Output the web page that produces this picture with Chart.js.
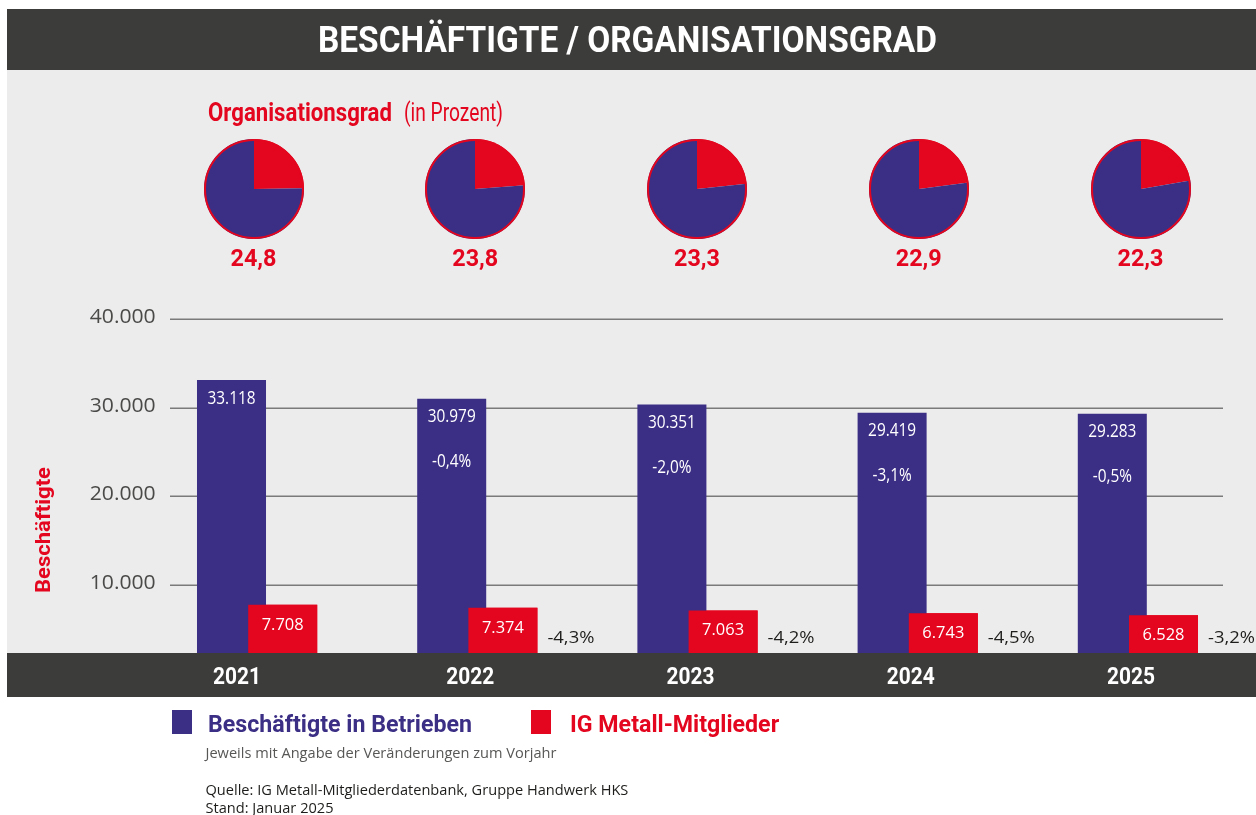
<!DOCTYPE html>
<html lang="de">
<head>
<meta charset="utf-8">
<title>Beschäftigte / Organisationsgrad</title>
<script src="https://cdn.jsdelivr.net/npm/chart.js@4.4.1/dist/chart.umd.min.js"></script>
<style>
  html, body { margin: 0; padding: 0; background: #ffffff; }
  #wrap { position: relative; width: 1256px; height: 815px; overflow: hidden; }
  #main { position: absolute; left: 0; top: 0; }
  .pie { position: absolute; width: 110px; height: 110px; }
</style>
</head>
<body>
<div id="wrap">
  <canvas id="main" width="1256" height="815"></canvas>
</div>
<script>
// ---------- DATA ----------
const years = ['2021', '2022', '2023', '2024', '2025'];
const employees = [33118, 30979, 30351, 29419, 29283];          // Beschäftigte in Betrieben
const members = [7708, 7374, 7063, 6743, 6528];                 // IG Metall-Mitglieder
const employeesChange = [null, -0.4, -2.0, -3.1, -0.5];         // % zum Vorjahr
const membersChange = [null, -4.3, -4.2, -4.5, -3.2];           // % zum Vorjahr
const orgDegree = [24.8, 23.8, 23.3, 22.9, 22.3];               // Organisationsgrad in %
const yTicks = [10000, 20000, 30000, 40000];
const seriesNames = ['Beschäftigte in Betrieben', 'IG Metall-Mitglieder'];

// ---------- STYLE ----------
const BLUE = '#3b2e85';
const RED = '#e3061e';
const DARK = '#3c3c3b';
const PANEL = '#ececec';
const GRID = '#7a7a7a';
const TICK = '#4a4a49';
const INK = '#1d1d1b';

const fmtInt = v => String(v).replace(/\B(?=(\d{3})+(?!\d))/g, '.');
const fmtDec = v => v.toFixed(1).replace('.', ',');

// text styles: horizontal scale fitted to a reference width
const styles = {
  title:   { font: '700 36px Roboto', ref: 'BESCHÄFTIGTE / ORGANISATIONSGRAD', w: 619, color: '#ffffff' },
  orgHead: { font: '700 25px Roboto', ref: 'Organisationsgrad', w: 184, color: RED },
  orgSub:  { font: '400 25px Roboto', ref: '(in Prozent)', w: 99, color: RED },
  pieLbl:  { font: '700 24px Roboto', ref: '24,8', w: 46, color: RED },
  yTick:   { font: '400 20px "Open Sans"', ref: '40.000', w: 66, color: TICK },
  axis:    { font: '700 20px Roboto', ref: 'Beschäftigte', w: 126, color: RED },
  year:    { font: '700 24px Roboto', ref: '2021', w: 48, color: '#ffffff' },
  barVal:  { font: '400 18px "Open Sans"', ref: '29.419', w: 48, color: '#ffffff' },
  redVal:  { font: '400 17px "Open Sans"', ref: '6.528', w: 42, color: '#ffffff' },
  redPct:  { font: '400 17px "Open Sans"', ref: '-4,3%', w: 47, color: INK },
  legend:  { font: '700 23px Roboto', ref: 'Beschäftigte in Betrieben', w: 264, color: BLUE },
  note:    { font: '400 15px "Open Sans"', ref: 'Jeweils mit Angabe der Veränderungen zum Vorjahr', w: 351, color: '#575756' },
};

function prepStyles(ctx) {
  for (const k in styles) {
    const s = styles[k];
    ctx.font = s.font;
    s.sx = s.w / ctx.measureText(s.ref).width;
  }
}

function drawText(ctx, text, x, y, s, align, baseline, color, rot) {
  ctx.save();
  ctx.font = s.font;
  ctx.fillStyle = color || s.color;
  ctx.textAlign = align || 'left';
  ctx.textBaseline = baseline || 'alphabetic';
  ctx.translate(x, y);
  if (rot) ctx.rotate(rot);
  ctx.scale(s.sx, 1);
  ctx.fillText(text, 0, 0);
  ctx.restore();
}

const pieCenters = orgDegree.map((_, i) => 253.5 + i * 221.75);

const decor = {
  id: 'decor',
  beforeDraw(chart) {
    const ctx = chart.ctx;
    if (!styles.title.sx) prepStyles(ctx);
    ctx.save();
    ctx.fillStyle = DARK;
    ctx.fillRect(7, 9, 1249, 61);
    ctx.fillStyle = PANEL;
    ctx.fillRect(7, 70, 1249, 583);
    ctx.restore();
  },
  beforeDatasetsDraw(chart) {
    const ctx = chart.ctx;
    const y = chart.scales.y;
    ctx.save();
    ctx.strokeStyle = GRID;
    ctx.lineWidth = 1.5;
    yTicks.forEach(t => {
      const py = Math.round(y.getPixelForValue(t)) + 0.25;
      ctx.beginPath();
      ctx.moveTo(170, py);
      ctx.lineTo(1223, py);
      ctx.stroke();
      drawText(ctx, fmtInt(t), 155.7, py + 4, styles.yTick, 'right');
    });
    ctx.restore();
  },
  afterDatasetsDraw(chart) {
    const ctx = chart.ctx;
    // members bars overlap the employees bars: draw them on top
    chart.getDatasetMeta(1).controller.draw();
    ctx.save();
    ctx.fillStyle = DARK;
    ctx.fillRect(7, 653, 1249, 44);
    ctx.restore();
  },
  afterDraw(chart) {
    const ctx = chart.ctx;
    const x = chart.scales.x;
    const mBlue = chart.getDatasetMeta(0);
    const mRed = chart.getDatasetMeta(1);

    // title
    drawText(ctx, 'BESCHÄFTIGTE / ORGANISATIONSGRAD', 627.5, 52.3, styles.title, 'center');
    // Organisationsgrad heading
    drawText(ctx, 'Organisationsgrad', 208, 120.5, styles.orgHead, 'left');
    drawText(ctx, '(in Prozent)', 404, 120.5, styles.orgSub, 'left');
    // pie values
    orgDegree.forEach((v, i) => drawText(ctx, fmtDec(v), pieCenters[i], 265.7, styles.pieLbl, 'center'));
    // axis title
    drawText(ctx, 'Beschäftigte', 49.5, 530, styles.axis, 'center', 'alphabetic', null, -Math.PI / 2);

    // bar labels
    mBlue.data.forEach((bar, i) => {
      drawText(ctx, fmtInt(employees[i]), bar.x, bar.y + 18.5, styles.barVal, 'center', 'middle');
      if (employeesChange[i] !== null) {
        drawText(ctx, fmtDec(employeesChange[i]) + '%', bar.x, bar.y + 63.5, styles.barVal, 'center', 'middle');
      }
    });
    mRed.data.forEach((bar, i) => {
      drawText(ctx, fmtInt(members[i]), bar.x, bar.y + 20, styles.redVal, 'center', 'middle');
      if (membersChange[i] !== null) {
        drawText(ctx, fmtDec(membersChange[i]) + '%', bar.x + bar.width / 2 + 10, 638.5, styles.redPct, 'left', 'middle');
      }
    });

    // year labels in the dark band
    years.forEach((yr, i) => {
      const cx = x.getPixelForValue(i) - 7 - (i === 0 ? 13 : 0);
      drawText(ctx, yr, cx, 684.3, styles.year, 'center');
    });

    // legend
    const ds = chart.data.datasets;
    const legendItems = [{ box: 172, text: 208 }, { box: 531, text: 570 }];
    ds.forEach((d, i) => {
      ctx.save();
      ctx.fillStyle = d.backgroundColor;
      ctx.fillRect(legendItems[i].box, 710, 20, 24);
      ctx.restore();
      drawText(ctx, d.label, legendItems[i].text, 731.7, styles.legend, 'left', 'alphabetic', d.backgroundColor);
    });

    // notes
    drawText(ctx, 'Jeweils mit Angabe der Veränderungen zum Vorjahr', 205.5, 757.5, styles.note, 'left');
    drawText(ctx, 'Quelle: IG Metall-Mitgliederdatenbank, Gruppe Handwerk HKS', 205.5, 794.5, styles.note, 'left', 'alphabetic', INK);
    drawText(ctx, 'Stand: Januar 2025', 205.5, 813, styles.note, 'left', 'alphabetic', INK);
  }
};

function build() {
  new Chart(document.getElementById('main'), {
    type: 'bar',
    data: {
      labels: years,
      datasets: [
        { label: seriesNames[0], data: employees, backgroundColor: BLUE, borderWidth: 0,
          categoryPercentage: 0.465, barPercentage: 1.348 },
        { label: seriesNames[1], data: members, backgroundColor: RED, borderWidth: 0,
          categoryPercentage: 0.465, barPercentage: 1.348 }
      ]
    },
    options: {
      responsive: false,
      animation: false,
      events: [],
      layout: { padding: { left: 147, right: 8, top: 319, bottom: 142 } },
      scales: {
        x: { display: false, offset: true },
        y: { display: false, min: 0, max: 40000, ticks: { stepSize: 10000 } }
      },
      plugins: { legend: { display: false }, tooltip: { enabled: false } }
    },
    plugins: [decor]
  });

  const outline = {
    id: 'outline',
    afterDatasetsDraw(chart) {
      const arc = chart.getDatasetMeta(0).data[0];
      if (!arc) return;
      const ctx = chart.ctx;
      ctx.save();
      ctx.strokeStyle = RED;
      ctx.lineWidth = 2;
      ctx.beginPath();
      ctx.arc(arc.x, arc.y, arc.outerRadius - 1, 0, Math.PI * 2);
      ctx.stroke();
      ctx.restore();
    }
  };

  const wrap = document.getElementById('wrap');
  orgDegree.forEach((v, i) => {
    const c = document.createElement('canvas');
    c.className = 'pie';
    c.width = 110; c.height = 110;
    c.style.left = (pieCenters[i] - 55) + 'px';
    c.style.top = '134px';
    wrap.appendChild(c);
    new Chart(c, {
      type: 'pie',
      data: {
        labels: ['Organisiert', 'Nicht organisiert'],
        datasets: [{ data: [v, +(100 - v).toFixed(1)], backgroundColor: [RED, BLUE], borderWidth: 0 }]
      },
      options: {
        responsive: false,
        animation: false,
        events: [],
        layout: { padding: 5 },
        plugins: { legend: { display: false }, tooltip: { enabled: false } }
      },
      plugins: [outline]
    });
  });
}

if (document.fonts && document.fonts.load) {
  Promise.all([
    document.fonts.load('700 36px Roboto'),
    document.fonts.load('400 25px Roboto'),
    document.fonts.load('400 20px "Open Sans"')
  ]).then(build, build);
} else {
  build();
}
</script>
</body>
</html>
